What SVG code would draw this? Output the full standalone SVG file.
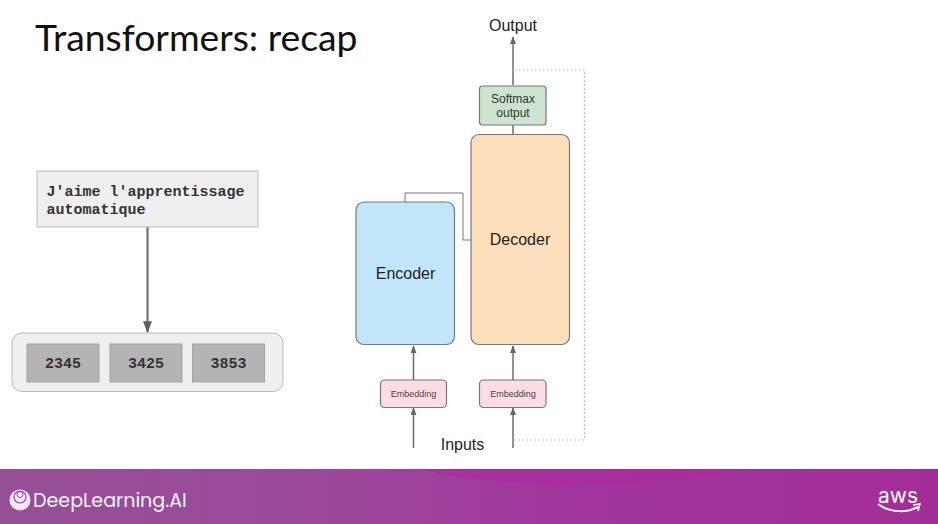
<svg xmlns="http://www.w3.org/2000/svg" width="938" height="524" viewBox="0 0 938 524">
<style>
.a{font-family:"Liberation Sans",Arial,sans-serif;text-anchor:middle}
.m{font-family:"Liberation Mono","Courier New",monospace;font-weight:700;fill:#333}
.n{stroke:#777;stroke-width:1.2}
.c{fill:none;stroke:#6e6e6e;stroke-width:1.5}
.t{fill:none;stroke:#777;stroke-width:1}
.d{fill:none;stroke:#aaa;stroke-width:1.2;stroke-dasharray:1.5 2.5}
.k{fill:#b5b3b5;stroke:#a4a4a4;stroke-width:1}
</style>
<defs>
<marker id="ah" viewBox="0 0 10 10" refX="9" refY="5" markerWidth="8" markerHeight="6" preserveAspectRatio="none" orient="auto" markerUnits="userSpaceOnUse"><path d="M0 0L10 5L0 10z" fill="#666"/></marker>
<marker id="ah2" viewBox="0 0 10 10" refX="9" refY="5" markerWidth="12" markerHeight="9" preserveAspectRatio="none" orient="auto" markerUnits="userSpaceOnUse"><path d="M0 0L10 5L0 10z" fill="#5f5f5f"/></marker>
<linearGradient id="band" x1="0" y1="0" x2="1" y2="0"><stop offset="0" stop-color="#954f95"/><stop offset=".3" stop-color="#9b4a9a"/><stop offset=".6" stop-color="#a2379f"/><stop offset="1" stop-color="#a32d96"/></linearGradient>
</defs>
<rect width="938" height="524" fill="#fff"/>
<text x="35" y="51" font-family="Lato,sans-serif" font-size="37.300" fill="#111">Transformers: recap</text>
<g id="connectors">
<path class="c" d="M147.500 227V332" style="stroke-width:2.200" marker-end="url(#ah2)"/>
<path class="c" d="M513 85V37" marker-end="url(#ah)"/>
<path class="c" d="M513 134V125"/>
<path class="t" d="M405 202V193H463V240H471"/>
<path class="c" d="M413.500 380V346" marker-end="url(#ah)"/>
<path class="c" d="M513 380V346" marker-end="url(#ah)"/>
<path class="c" d="M413.500 448V408" marker-end="url(#ah)"/>
<path class="c" d="M513 448V408" marker-end="url(#ah)"/>
<path class="d" d="M515 70H584.500V440H515"/>
</g>
<g id="source"><rect x="37" y="171" width="221" height="56" fill="#efefef" stroke="#bbb" stroke-width="1"/>
<text class="m" x="46.500" y="196" font-size="15">J'aime l'apprentissage</text><text class="m" x="46.500" y="214" font-size="15">automatique</text></g>
<g id="tokens"><rect x="12" y="333" width="271" height="58.500" rx="10" fill="#efefef" stroke="#bbb"/></g>
<g id="token-2345"><rect class="k" x="27" y="344" width="72" height="38"/><text class="m" x="63" y="368" font-size="15" text-anchor="middle">2345</text></g>
<g id="token-3425"><rect class="k" x="110" y="344" width="72" height="38"/><text class="m" x="146" y="368" font-size="15" text-anchor="middle">3425</text></g>
<g id="token-3853"><rect class="k" x="192.500" y="344" width="72" height="38"/><text class="m" x="228.500" y="368" font-size="15" text-anchor="middle">3853</text></g>
<g id="encoder"><rect class="n" x="356" y="202" width="98.500" height="142.500" rx="8" fill="#c2e6f9"/><text class="a" x="405.500" y="279" font-size="16" fill="#222">Encoder</text></g>
<g id="decoder"><rect class="n" x="471" y="134.500" width="98.500" height="210" rx="8" fill="#fedfbd"/><text class="a" x="520" y="245" font-size="16" fill="#222">Decoder</text></g>
<g id="softmax"><rect class="n" x="479.500" y="86" width="66.500" height="39" rx="3" fill="#cde5d0"/><text class="a" x="513" y="103" font-size="12" fill="#333">Softmax</text><text class="a" x="513" y="117" font-size="12" fill="#333">output</text></g>
<g id="embedding-encoder"><rect class="n" x="380.500" y="380" width="66" height="27.500" rx="4" fill="#fddde3"/><text class="a" x="413.500" y="397" font-size="9" fill="#444">Embedding</text></g>
<g id="embedding-decoder"><rect class="n" x="479.500" y="380" width="66.500" height="27.500" rx="4" fill="#fddde3"/><text class="a" x="513" y="397" font-size="9" fill="#444">Embedding</text></g>
<text class="a" x="513" y="31" font-size="16" fill="#222">Output</text>
<text class="a" x="462.500" y="450" font-size="16" fill="#222">Inputs</text>
<rect y="469" width="938" height="55" fill="url(#band)"/>
<path d="M420 469C500 490 640 490 760 469z" fill="#ad2ba0" opacity=".7"/>
<g id="logo"><circle cx="20" cy="500" r="10.500" fill="#f7e9f6"/><circle cx="20" cy="497" r="6" fill="none" stroke="#9b4a9a" stroke-width="1.200"/><circle cx="20" cy="494.500" r="3" fill="none" stroke="#9b4a9a" stroke-width="1"/></g>
<text x="33" y="507" font-family="Poppins,Inter,sans-serif" font-size="19.100" fill="#fbf3fb">DeepLearning.AI</text>
<text x="898" y="503" font-family="Inter,sans-serif" font-size="21" fill="#fff" text-anchor="middle" textLength="40" lengthAdjust="spacingAndGlyphs">aws</text>
<path d="M878 504C890 513 907 513 918 507" fill="none" stroke="#fff" stroke-width="2"/>
<path d="M913 505L920 504L918 511" fill="none" stroke="#fff" stroke-width="1.500"/>
</svg>
